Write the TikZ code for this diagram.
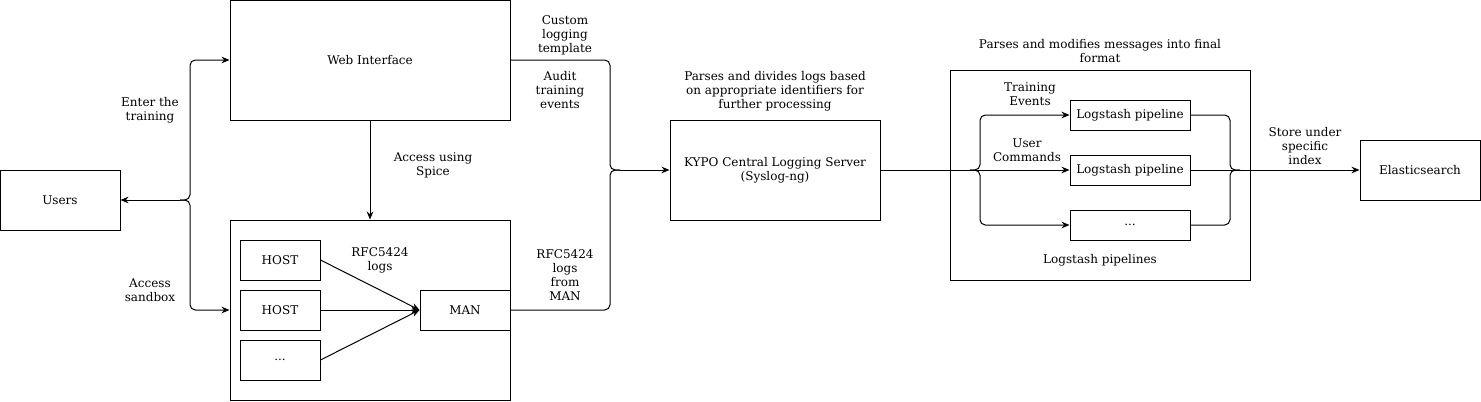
\documentclass[tikz,border=0pt]{standalone}
\usepackage{fontspec}
\setmainfont{DejaVu Serif}
\usetikzlibrary{arrows.meta,positioning,calc}
\tikzset{
  every picture/.style={
    line width=0.75pt,
    >={Stealth[length=6pt, width=5pt]}
  },
  box/.style={
    draw, align=center, inner sep=0pt,
    font=\fontsize{9}{10.5}\selectfont
  },
  lbl/.style={
    align=center, inner sep=0pt,
    font=\fontsize{9}{10.5}\selectfont
  },
  brace/.style={
    rounded corners=4pt
  }
}

\begin{document}
\begin{tikzpicture}[x=0.75pt,y=-0.75pt]
      \useasboundingbox (0,0) rectangle (1481,401);
      \node[box, minimum width=90pt, minimum height=45pt] (users) at (60,200) {Users};
      \node[box, minimum width=210pt, minimum height=90pt] (web) at (370,60) {Web Interface};
      \node[box, minimum width=210pt, minimum height=135pt] (sandbox) at (370,310) {};
      \node[box, minimum width=60pt, minimum height=30pt] (host1) at (280,260) {HOST};
      \node[box, minimum width=60pt, minimum height=30pt] (host2) at (280,310) {HOST};
      \node[box, minimum width=60pt, minimum height=30pt] (host3) at (280,360) {...};
      \node[box, minimum width=67.5pt, minimum height=30pt] (man) at (465,310) {MAN};
      \node[box, minimum width=157.5pt, minimum height=75pt] (kypo) at (775,170) {KYPO Central Logging Server\\(Syslog-ng)};
      \node[box, minimum width=225pt, minimum height=157.5pt] (pipes) at (1100,175) {};
      \node[box, minimum width=90pt, minimum height=22.5pt] (lp1) at (1130,115) {Logstash pipeline};
      \node[box, minimum width=90pt, minimum height=22.5pt] (lp2) at (1130,170) {Logstash pipeline};
      \node[box, minimum width=90pt, minimum height=22.5pt] (lp3) at (1130,225) {...};
      \node[box, minimum width=90pt, minimum height=45pt] (elastic) at (1420,170) {Elasticsearch};

      \coordinate (uj) at (180,200);
      \draw[->] (uj) -- (users);
      \draw[->, brace] (uj) -| (190,60) -- (web.west);
      \draw[->, brace] (uj) -| (190,310) -- (sandbox.west);
      \draw[->] (web) -- (sandbox);
      \draw[->] (host1.east) -- (man.west);
      \draw[->] (host2.east) -- (man.west);
      \draw[->] (host3.east) -- (man.west);

      \coordinate (kb) at (610,170);
      \coordinate (kj) at (620,170);
      \draw[brace] (web.east) -| (kb) -- (kj);
      \draw[brace] (man.east) -| (kb) -- (kj);
      \draw[->] (kj) -- (kypo.west);

      \coordinate (lj) at (970,170);
      \coordinate (lb) at (980,170);
      \draw (kypo.east) -- (lj);
      \draw[->, brace] (lj) -- (lb) |- (lp1.west);
      \draw[->] (lj) -- (lp2.west);
      \draw[->, brace] (lj) -- (lb) |- (lp3.west);

      \coordinate (eb) at (1230,170);
      \coordinate (ej) at (1240,170);
      \draw[brace] (lp1.east) -| (eb) -- (ej);
      \draw (lp2.east) -- (ej);
      \draw[brace] (lp3.east) -| (eb) -- (ej);
      \draw[->] (ej) -- (elastic.west);

      \node[lbl] (enter) at (150,110) {Enter the\\training};
      \node[lbl] (access) at (150,290) {Access\\sandbox};
      \node[lbl] (spice) at (433,165) {Access using\\Spice};
      \node[lbl] (rfc) at (380,260) {RFC5424\\logs};
      \node[lbl] (custom) at (565,35) {Custom\\logging\\template};
      \node[lbl] (audit) at (560,90) {Audit\\training\\events};
      \node[lbl] (rfcman) at (565,275) {RFC5424\\logs\\from\\MAN};
      \node[lbl] (divides) at (775,91) {Parses and divides logs based\\on appropriate identifiers for\\further processing};
      \node[lbl] (modifies) at (1100,51) {Parses and modifies messages into final\\format};
      \node[lbl] (training) at (1030,94) {Training\\Events};
      \node[lbl] (commands) at (1027,150) {User\\Commands};
      \node[lbl] (pipetitle) at (1100,260) {Logstash pipelines};
      \node[lbl] (store) at (1305,146) {Store under\\specific\\index};
\end{tikzpicture}
\end{document}
